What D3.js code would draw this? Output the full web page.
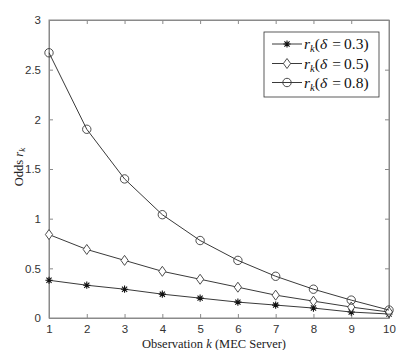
<!DOCTYPE html>
<html><head><meta charset="utf-8">
<script src="https://cdn.jsdelivr.net/npm/d3@7"></script>
<style>body{margin:0;background:#fff}svg{display:block}</style>
</head><body><svg id="c" width="415" height="350"></svg>
<script>
const ks = [1,2,3,4,5,6,7,8,9,10];
const r03 = [0.38,0.33,0.29,0.24,0.20,0.16,0.13,0.10,0.06,0.04];
const r05 = [0.84,0.69,0.58,0.47,0.39,0.31,0.23,0.17,0.11,0.06];
const r08 = [2.67,1.90,1.40,1.04,0.78,0.58,0.42,0.29,0.18,0.08];
const yTicks = [0,0.5,1,1.5,2,2.5,3];
const yTickLabels = ["0","0.5","1","1.5","2","2.5","3"];
const seriesNames = ["0.3","0.5","0.8"];
const seriesMarkers = ["star","diamond","circle"];

const svg = d3.select("#c");
const L=49,R=389,T=20,B=318;
const x = d3.scaleLinear().domain([1,10]).range([L,R]);
const y = d3.scaleLinear().domain([0,3]).range([B,T]);
const axisCol="#8a8a8a", lineCol="#3a3a3a";

svg.append("rect").attr("x",L).attr("y",T).attr("width",R-L).attr("height",B-T)
  .attr("fill","none").attr("stroke",axisCol).attr("stroke-width",1);

const tickFont = "Liberation Sans, Arial, sans-serif";
const xa = svg.append("g").attr("transform",`translate(0,${B})`)
  .call(d3.axisBottom(x).tickValues(ks).tickFormat(d3.format("d")).tickSizeInner(-4).tickSizeOuter(0).tickPadding(7));
const xt = svg.append("g").attr("transform",`translate(0,${T})`)
  .call(d3.axisTop(x).tickValues(ks).tickFormat("").tickSizeInner(-4).tickSizeOuter(0));
const ya = svg.append("g").attr("transform",`translate(${L},0)`)
  .call(d3.axisLeft(y).tickValues(yTicks).tickFormat((d,i)=>yTickLabels[i]).tickSizeInner(-4).tickSizeOuter(0).tickPadding(8));
const yr = svg.append("g").attr("transform",`translate(${R},0)`)
  .call(d3.axisRight(y).tickValues(yTicks).tickFormat("").tickSizeInner(-4).tickSizeOuter(0));
[xa,xt,ya,yr].forEach(g=>{
  g.select(".domain").attr("stroke",axisCol);
  g.selectAll(".tick line").attr("stroke",axisCol);
  g.selectAll(".tick text").attr("fill","#333").style("font-family",tickFont).style("font-size","11.5px");
});

function drawMarker(g, type, cx, cy){
  if(type==="circle"){
    g.append("circle").attr("cx",cx).attr("cy",cy).attr("r",4.2)
      .attr("fill","none").attr("stroke",lineCol).attr("stroke-width",0.9);
  } else if(type==="diamond"){
    g.append("path").attr("d",`M${cx},${cy-5}L${cx+3.6},${cy}L${cx},${cy+5}L${cx-3.6},${cy}Z`)
      .attr("fill","#fff").attr("stroke",lineCol).attr("stroke-width",0.9);
  } else {
    const s=3.6;
    const p = d3.path();
    p.moveTo(cx-s,cy); p.lineTo(cx+s,cy);
    p.moveTo(cx,cy-s); p.lineTo(cx,cy+s);
    const d=s*0.72;
    p.moveTo(cx-d,cy-d); p.lineTo(cx+d,cy+d);
    p.moveTo(cx-d,cy+d); p.lineTo(cx+d,cy-d);
    g.append("path").attr("d",p.toString()).attr("stroke","#111").attr("stroke-width",1.1).attr("fill","none");
  }
}
const seriesData = [r03,r05,r08];
const line = d3.line().x((d,i)=>x(ks[i])).y(d=>y(d));
seriesData.forEach((vals,si)=>{
  const g = svg.append("g");
  g.append("path").attr("d",line(vals)).attr("fill","none").attr("stroke",lineCol).attr("stroke-width",1);
  vals.forEach((v,i)=>drawMarker(g, seriesMarkers[si], x(ks[i]), y(v)));
});

const lg = svg.append("g");
lg.append("rect").attr("x",264).attr("y",32).attr("width",115).attr("height",65)
  .attr("fill","#fff").attr("stroke","#333").attr("stroke-width",0.8);
const ly=[44,63.5,82.5];
seriesNames.forEach((nm,i)=>{
  lg.append("line").attr("x1",272).attr("x2",302).attr("y1",ly[i]).attr("y2",ly[i]).attr("stroke",lineCol);
  drawMarker(lg, seriesMarkers[i], 287, ly[i]);
  const t = lg.append("text").attr("x",304).attr("y",ly[i]+5)
    .style("font-family","Liberation Serif, DejaVu Serif, serif").style("font-size","15.5px").attr("fill","#111");
  t.append("tspan").style("font-style","italic").text("r");
  t.append("tspan").style("font-style","italic").style("font-size","10.5px").attr("dy",3).text("k");
  t.append("tspan").attr("dy",-3).text("(");
  t.append("tspan").style("font-style","italic").text("δ");
  t.append("tspan").text("\u2009=\u2009" + nm + ")").attr("dx",2);
});

const xl = svg.append("text").attr("x",214).attr("y",348).attr("text-anchor","middle")
  .style("font-family","Liberation Serif, DejaVu Serif, serif").style("font-size","12.5px").attr("fill","#222");
xl.append("tspan").text("Observation ");
xl.append("tspan").style("font-style","italic").text("k");
xl.append("tspan").text(" (MEC Server)");

const yl = svg.append("text").attr("transform","translate(23,167) rotate(-90)").attr("text-anchor","middle")
  .style("font-family","Liberation Serif, DejaVu Serif, serif").style("font-size","12.5px").attr("fill","#222");
yl.append("tspan").text("Odds ");
yl.append("tspan").style("font-style","italic").text("r");
yl.append("tspan").style("font-style","italic").style("font-size","9px").attr("dy",2).text("k");
</script></body></html>
